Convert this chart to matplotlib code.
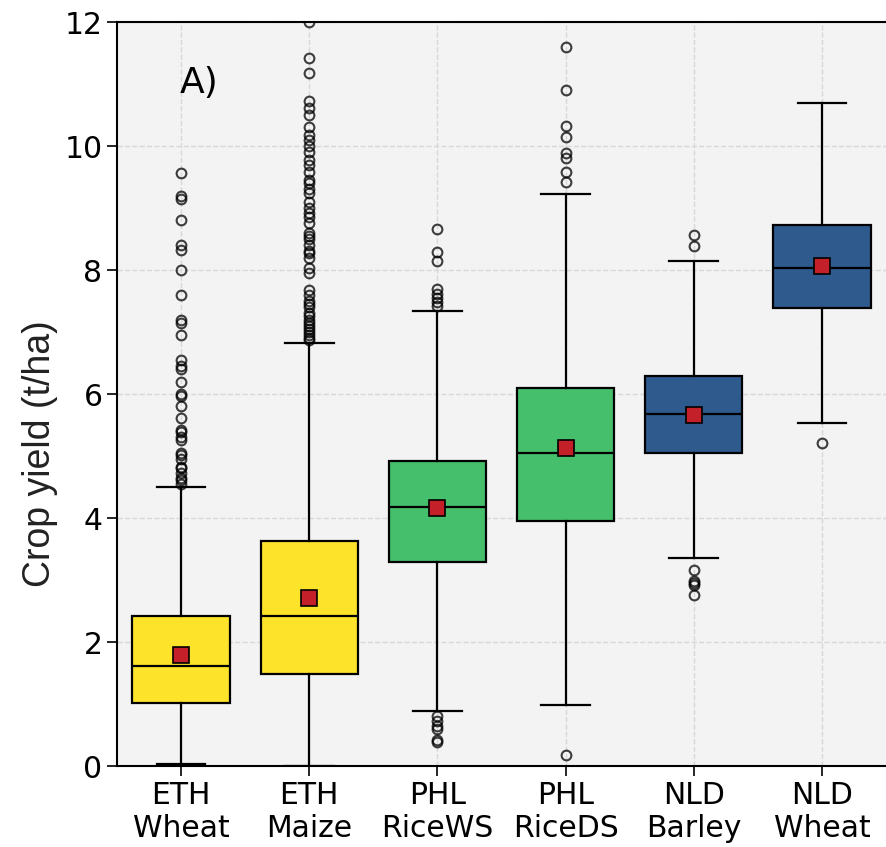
import matplotlib
matplotlib.use("Agg")
import matplotlib.pyplot as plt

# categories and box statistics
labels = ["ETH\nWheat", "ETH\nMaize", "PHL\nRiceWS", "PHL\nRiceDS", "NLD\nBarley", "NLD\nWheat"]
colors = ["#fde42a", "#fde42a", "#45bf6b", "#45bf6b", "#2e5a8e", "#2e5a8e"]

whislo = [0.04, 0.0, 0.89, 0.98, 3.36, 5.54]
q1 = [1.02, 1.48, 3.29, 3.95, 5.05, 7.39]
med = [1.61, 2.42, 4.18, 5.05, 5.68, 8.04]
q3 = [2.42, 3.63, 4.92, 6.10, 6.29, 8.73]
whishi = [4.50, 6.82, 7.34, 9.23, 8.14, 10.69]
means = [1.79, 2.71, 4.16, 5.13, 5.66, 8.06]

fliers_eth_wheat = [9.57, 9.2, 9.15, 8.8, 8.4, 8.33, 8.0, 7.6, 7.2, 7.15, 6.95, 6.55, 6.45,
                    6.4, 6.2, 6.0, 5.97, 5.8, 5.62, 5.42, 5.38, 5.3, 5.26, 5.05, 5.02, 4.95,
                    4.83, 4.8, 4.72, 4.65, 4.61, 4.55]
fliers_eth_maize = [12.0, 11.42, 11.18, 10.72, 10.62, 10.5, 10.3, 10.18, 10.1, 10.0, 9.9,
                    9.78, 9.7, 9.58, 9.45, 9.4, 9.3, 9.24, 9.1, 9.0, 8.92, 8.85, 8.76, 8.6,
                    8.55, 8.5, 8.4, 8.3, 8.27, 8.2, 8.03, 7.95, 7.68, 7.6, 7.5, 7.45, 7.4,
                    7.3, 7.25, 7.2, 7.15, 7.1, 7.05, 7.0, 6.95, 6.9, 6.87]
fliers_phl_ws = [8.66, 8.29, 8.14, 7.7, 7.62, 7.55, 7.48, 7.42, 0.8, 0.72, 0.65, 0.6, 0.42, 0.38]
fliers_phl_ds = [11.6, 10.9, 10.32, 10.14, 9.88, 9.8, 9.58, 9.42, 0.17]
fliers_nld_barley = [8.56, 8.39, 3.16, 2.98, 2.95, 2.92, 2.76]
fliers_nld_wheat = [5.21]
fliers = [fliers_eth_wheat, fliers_eth_maize, fliers_phl_ws, fliers_phl_ds,
          fliers_nld_barley, fliers_nld_wheat]

stats = []
for i in range(len(labels)):
    stats.append(dict(whislo=whislo[i], q1=q1[i], med=med[i], q3=q3[i],
                      whishi=whishi[i], mean=means[i], fliers=fliers[i]))

fig = plt.figure(figsize=(8.86, 8.47), dpi=100)
ax = fig.add_axes([117/886, 81/847, 769/886, 744/847])
ax.set_facecolor("#f3f3f3")
ax.set_axisbelow(True)
ax.grid(True, color="#d8d8d8", linestyle="--", linewidth=1)

bp = ax.bxp(stats, positions=range(len(labels)), widths=0.76, patch_artist=True,
            showmeans=True,
            boxprops=dict(edgecolor="black", linewidth=1.6),
            medianprops=dict(color="black", linewidth=1.6),
            whiskerprops=dict(color="black", linewidth=1.6),
            capprops=dict(color="black", linewidth=1.6),
            flierprops=dict(marker="o", markerfacecolor="none", markeredgecolor="black",
                            markersize=7, markeredgewidth=1.5, alpha=0.75),
            meanprops=dict(marker="s", markerfacecolor="#c4202a", markeredgecolor="black",
                           markersize=11, markeredgewidth=1.2))
for patch, c in zip(bp["boxes"], colors):
    patch.set_facecolor(c)

ax.set_xlim(-0.5, 5.5)
ax.set_ylim(0, 12)
ax.set_xticks(range(len(labels)))
ax.set_xticklabels(labels)
ax.set_yticks([0, 2, 4, 6, 8, 10, 12])
ax.tick_params(axis="both", labelsize=21.5, length=7, width=1.2)
for s in ax.spines.values():
    s.set_linewidth(1.5)
ax.spines["right"].set_visible(False)

ax.set_ylabel("Crop yield (t/ha)", fontsize=27, family="Liberation Sans", color="#222222")
ax.yaxis.set_label_coords(-0.077, 0.42)
ax.text(-0.01, 10.85, "A)", fontsize=26, va="baseline")

fig.savefig("out.png", dpi=100)
